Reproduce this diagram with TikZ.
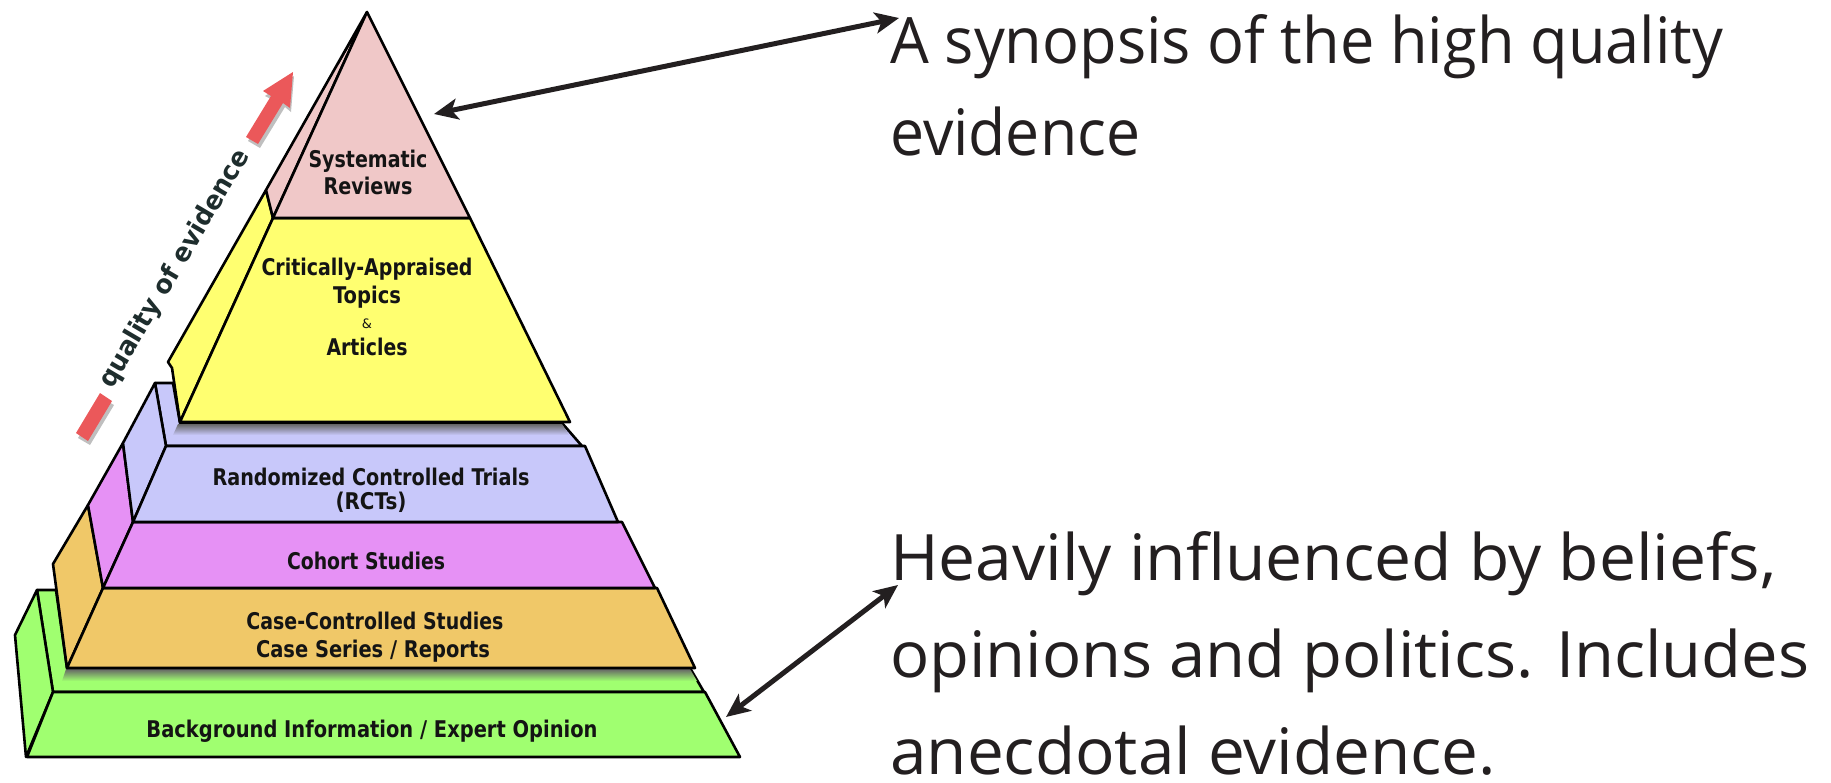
\documentclass[tikz,border=0pt]{standalone}
\usepackage{fontspec}
\setmainfont{Open Sans}
\newfontfamily\lblfont{DejaVu Sans}
\newfontfamily\qfont{DejaVu Sans}
\usetikzlibrary{arrows.meta}
\definecolor{cpink}{RGB}{240,200,200}
\definecolor{cyellow}{RGB}{255,255,112}
\definecolor{clav}{RGB}{200,200,250}
\definecolor{cmag}{RGB}{230,145,245}
\definecolor{corange}{RGB}{240,200,104}
\definecolor{cgreen}{RGB}{160,255,112}
\definecolor{cred}{RGB}{235,88,90}
\definecolor{darktext}{RGB}{35,31,32}
\definecolor{lbltext}{RGB}{20,20,20}
\definecolor{qtext}{RGB}{30,45,45}
\newcommand\fitw[2]{\resizebox{#1}{\height}{#2}}
\begin{document}
\begin{tikzpicture}[x=1pt,y=-1pt,
  tier/.style={draw=black, line width=2.6pt, line join=round},
  lbl/.style={font=\lblfont\bfseries\fontsize{23}{27}\selectfont, text=lbltext, inner sep=0pt, anchor=base},
  big/.style={font=\fontsize{64}{76}\selectfont, text=darktext, inner sep=0pt, anchor=base west},
  conn/.style={draw=darktext, line width=5pt, {Stealth[length=24pt,width=21pt,inset=6pt]}-{Stealth[length=24pt,width=21pt,inset=6pt]}},
  redshape/.style={fill=cred},
  redshadow/.style={fill=black, opacity=0.25},
]
\useasboundingbox[fill=white] (0,0) rectangle (1831,782);

% ---- green tier (Background)
\path[tier, fill=cgreen] (37,590) -- (56,590) -- (67,668) -- (690,668) -- (704,692) -- (53,692) -- cycle;
\shade[top color=black!60, bottom color=cgreen] (66,669) -- (690,669) -- (697,681) -- (62,681) -- cycle;
\path[tier, fill=cgreen] (37,590) -- (53,692) -- (26,757) -- (15,635) -- cycle;
\path[tier, fill=cgreen] (53,692) -- (705,692) -- (740,757) -- (27,757) -- cycle;

% ---- orange tier (Case)
\path[tier, fill=corange] (88,505) -- (103,588) -- (67,668) -- (53,564) -- cycle;
\path[tier, fill=corange] (103,588) -- (657,588) -- (695,668) -- (67,668) -- cycle;

% ---- magenta tier (Cohort)
\path[tier, fill=cmag] (123,443) -- (133,522) -- (103,588) -- (88,505) -- cycle;
\path[tier, fill=cmag] (133,522) -- (622,522) -- (655,588) -- (103,588) -- cycle;

% ---- lavender tier (RCT)
\path[tier, fill=clav] (155,383) -- (173,383) -- (180,423) -- (562,423) -- (582,446) -- (166,446) -- cycle;
\shade[top color=black!60, bottom color=clav] (178,424) -- (562,424) -- (569,435) -- (173,435) -- cycle;
\path[tier, fill=clav] (155,383) -- (166,446) -- (133,522) -- (123,443) -- cycle;
\path[tier, fill=clav] (166,446) -- (585,446) -- (618,522) -- (133,522) -- cycle;

% ---- yellow tier (CAT)
\path[tier, fill=cyellow] (266,190) -- (273,218) -- (180,422) -- (172,368) -- (168,362) -- cycle;
\path[tier, fill=cyellow] (273,218) -- (470,218) -- (570,422) -- (180,422) -- cycle;

% ---- pink tier (SR)
\path[tier, fill=cpink] (367,12) -- (266,190) -- (273,218) -- cycle;
\path[tier, fill=cpink] (367,12) -- (470,218) -- (273,218) -- cycle;
\draw[line width=1.6pt] (365,17) -- (338,64);

% ---- red arrow and bar
\fill[redshadow] (294,76) -- (291,112) -- (285,107) -- (260,148) -- (248,141) -- (273,100) -- (265,96) -- cycle;
\fill[redshape] (293,72) -- (290,108) -- (283,103) -- (258,144) -- (246,137) -- (271,96) -- (263,91) -- cycle;
\fill[redshadow] (78,438) -- (90,445) -- (114,405) -- (102,398) -- cycle;
\fill[redshape] (76,433) -- (88,441) -- (112,401) -- (100,393) -- cycle;

\node[rotate=59.5, font=\qfont\bfseries\fontsize{26}{30}\selectfont, text=qtext, inner sep=0pt] (qe) at (175,269) {\fitw{272pt}{quality of evidence}};

% ---- labels
\node[lbl] (sr1) at (368,167) {\fitw{119pt}{Systematic}};
\node[lbl] (sr2) at (368,194) {\fitw{89pt}{Reviews}};
\node[lbl] (cat1) at (367,275) {\fitw{211pt}{Critically-Appraised}};
\node[lbl] (cat2) at (367,303) {\fitw{68pt}{Topics}};
\node[lbl, font=\lblfont\fontsize{13}{14}\selectfont] (cat3) at (367,328) {\&};
\node[lbl] (cat4) at (367,355) {\fitw{81pt}{Articles}};
\node[lbl] (rct1) at (371,485) {\fitw{317pt}{Randomized Controlled Trials}};
\node[lbl] (rct2) at (371,509) {\fitw{71pt}{(RCTs)}};
\node[lbl] (coh) at (366,569) {\fitw{158pt}{Cohort Studies}};
\node[lbl] (cas1) at (375,629) {\fitw{257pt}{Case-Controlled Studies}};
\node[lbl] (cas2) at (373,657) {\fitw{234pt}{Case Series / Reports}};
\node[lbl] (bg) at (372,737) {\fitw{451pt}{Background Information / Expert Opinion}};

% ---- right-hand text
\node[big] (t1) at (890,63) {\fitw{833pt}{A synopsis of the high quality}};
\node[big] (t2) at (890,155) {\fitw{250pt}{evidence}};
\node[big] (b1) at (890,580) {\fitw{886pt}{Heavily influenced by beliefs,}};
\node[big] (b2) at (890,677) {\fitw{919pt}{opinions and politics. Includes}};
\node[big] (b3) at (890,774) {\fitw{606pt}{anecdotal evidence.}};

% ---- connectors
\coordinate (srpt) at (434,114);
\coordinate (t1pt) at (899,18);
\coordinate (bgpt) at (726,717);
\coordinate (b1pt) at (898,585);
\draw[conn] (srpt) -- (t1pt);
\draw[conn] (bgpt) -- (b1pt);
\end{tikzpicture}
\end{document}
